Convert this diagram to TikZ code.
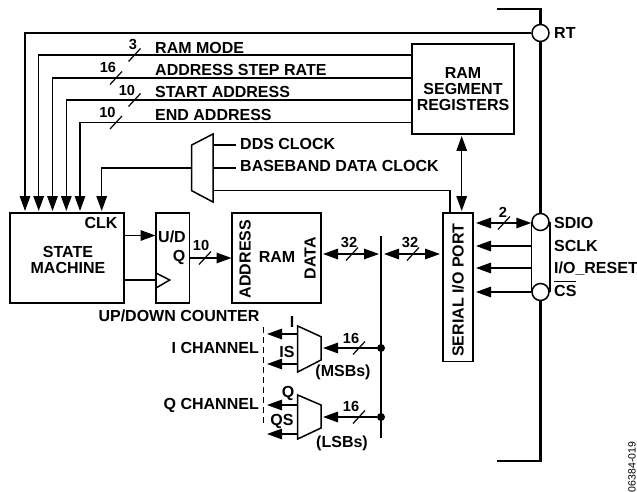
\documentclass[tikz,border=0pt]{standalone}
\usepackage{fontspec}
\setmainfont{Liberation Sans}
\usetikzlibrary{arrows.meta}

\begin{document}
\begin{tikzpicture}[x=1pt,y=-1pt,>={Stealth[inset=0pt,length=15pt,width=10.5pt]},
                    sig/.style={line width=1.5pt},
                    bus/.style={line width=2.2pt},
                    tick/.style={line width=1.2pt},
                    blk/.style={draw,line width=1.5pt,inner sep=0pt},
                    pad/.style={circle,draw,line width=1.5pt,fill=white,minimum size=17pt,inner sep=0pt},
                    lbl/.style={inner sep=0pt,text height=11.4pt,text depth=0pt,font=\fontsize{16}{17}\selectfont\bfseries},
                    num/.style={inner sep=0pt,text height=10.5pt,text depth=0pt,font=\fontsize{14.6}{17}\selectfont\bfseries},
                    dot/.style={circle,fill,inner sep=0pt,minimum size=8pt}]
  \useasboundingbox (0,0) rectangle (637,492);
  % device outline and pins
  \coordinate (topstub) at (497,9);
  \coordinate (botstub) at (497,461);
  \node[pad] (rt) at (540.5,33) {};
  \node[pad] (sdio) at (540.5,222) {};
  \node[pad] (cs) at (540.5,292) {};
  \draw[bus] (topstub) -| (rt.north);
  \draw[bus] (rt.south) -- (sdio.north);
  \draw[bus] (botstub) -| (cs.south);
  \draw[sig] (sdio.west) -- (cs.west) (sdio.east) -- (cs.east);
  \node[lbl,anchor=west] (rtl) at (554,33) {RT};
  \node[lbl,anchor=west] (sdiol) at (554,223) {SDIO};
  \node[lbl,anchor=west] (sclkl) at (554,246) {SCLK};
  \node[lbl,anchor=west] (rstl) at (554,268) {I/O\_RESET};
  \node[lbl,anchor=west] (csl) at (554,290.5) {$\overline{\mbox{\rule{0pt}{13.2pt}CS}}$};
  % blocks
  \node[blk,minimum width=102pt,minimum height=90pt,align=center,font=\fontsize{16}{16}\selectfont\bfseries] (ramreg) at (463,89) {RAM\\SEGMENT\\REGISTERS};
  \node[blk,minimum width=114pt,minimum height=90pt] (sm) at (67,258) {};
  \node[blk,minimum width=33.5pt,minimum height=90pt] (udc) at (172.7,258) {};
  \node[blk,minimum width=89pt,minimum height=90pt] (ram) at (276.5,258) {};
  \node[blk,minimum width=30pt,minimum height=148.5pt] (sio) at (457.8,287) {};
  \node[lbl,rotate=90] (siol) at (457.8,290) {SERIAL I/O PORT};
  \node[lbl] (st) at (68,252) {STATE};
  \node[lbl] (ma) at (68,267.5) {MACHINE};
  \node[lbl] (clk) at (101,223) {CLK};
  \node[lbl] (ud) at (172,236.5) {U/D};
  \node[lbl] (qq) at (179,256) {Q};
  \node[lbl,rotate=90] (addr) at (245,259) {ADDRESS};
  \node[lbl] (raml) at (277,257) {RAM};
  \node[lbl,rotate=90] (data) at (310,258) {DATA};
  \node[lbl] (cnt) at (179,316) {UP/DOWN COUNTER};
  % lines from the registers to the state machine
  \coordinate (t1) at (25,211);
  \coordinate (t2) at (38.7,211);
  \coordinate (t3) at (52.5,211);
  \coordinate (t4) at (66.3,211);
  \coordinate (t5) at (80,211);
  \coordinate (t6) at (101.7,211);
  \coordinate (r2) at (411.7,55);
  \coordinate (r3) at (411.7,78);
  \coordinate (r4) at (411.7,100);
  \coordinate (r5) at (411.7,122.5);
  \draw[sig,->] (rt.west) -| (t1);
  \draw[sig,->] (r2) -| (t2);
  \draw[sig,->] (r3) -| (t3);
  \draw[sig,->] (r4) -| (t4);
  \draw[sig,->] (r5) -| (t5);
  \node[lbl,anchor=west] (m1) at (155,47.5) {RAM MODE};
  \node[lbl,anchor=west] (m2) at (155,70) {ADDRESS STEP RATE};
  \node[lbl,anchor=west] (m3) at (155,92) {START ADDRESS};
  \node[lbl,anchor=west] (m4) at (155,114.5) {END ADDRESS};
  \node[num] (n1) at (133,44.5) {3};
  \node[num] (n2) at (108,67) {16};
  \node[num] (n3) at (127,90) {10};
  \node[num] (n4) at (107.5,112) {10};
  % clock mux
  \draw[sig] (191.7,145) -- (213,134) -- (213,202) -- (191.7,190.7) -- cycle;
  \coordinate (mo) at (191.7,168);
  \coordinate (ma1) at (213,145);
  \coordinate (ma2) at (213,168);
  \coordinate (ma3) at (213,190.7);
  \coordinate (me1) at (236,145);
  \coordinate (me2) at (236,168);
  \draw[sig,->] (mo) -| (t6);
  \draw[sig] (ma1) -- (me1) (ma2) -- (me2);
  \draw[sig] (ma3) -| (450,213);
  \node[lbl,anchor=west] (dds) at (240,143.5) {DDS CLOCK};
  \node[lbl,anchor=west] (bb) at (240,165.7) {BASEBAND DATA CLOCK};
  % state machine to counter to RAM
  \coordinate (sm1) at (124,235.5);
  \coordinate (ud1) at (155.5,235.5);
  \coordinate (sm2) at (124,280);
  \coordinate (ud2) at (156,280);
  \coordinate (q1) at (189.5,258);
  \coordinate (ra1) at (231.5,258);
  \draw[sig,->] (sm1) -- (ud1);
  \draw[sig] (sm2) -- (ud2);
  \draw[sig] (156,273) -- (169.7,280) -- (156,288);
  \draw[sig,->] (q1) -- (ra1);
  \node[num] (n5) at (201,245) {10};
  % data bus
  \coordinate (bt) at (381,236);
  \coordinate (bb1) at (381,438);
  \draw[sig] (bt) -- (bb1);
  \node[dot] (d1) at (381,348) {};
  \node[dot] (d2) at (381,417) {};
  \coordinate (a1) at (323,254);
  \coordinate (a2) at (379,254);
  \coordinate (a3) at (384,254);
  \coordinate (a4) at (440,254);
  \draw[sig,<->] (a1) -- (a2);
  \draw[sig,<->] (a3) -- (a4);
  \node[num] (n6) at (349,242) {32};
  \node[num] (n7) at (410,242) {32};
  % serial port side
  \coordinate (s1) at (476,223);
  \coordinate (s2) at (476,246);
  \coordinate (s3) at (476,268);
  \coordinate (s4) at (476,292);
  \coordinate (p2) at (532,246);
  \coordinate (p3) at (532,268);
  \draw[sig,<->] (s1) -- (sdio.west |- s1);
  \draw[sig,->] (p2) -- (s2);
  \draw[sig,->] (p3) -- (s3);
  \draw[sig,->] (cs.west) -- (s4);
  \node[num] (n8) at (503,212) {2};
  \draw[sig,<->] (461.7,136) -- (461.7,211);
  % channel muxes
  \draw[sig] (297.7,326) -- (321,336.7) -- (321,360) -- (297.7,372) -- cycle;
  \draw[sig] (297.7,395) -- (321,405) -- (321,428) -- (297.7,439) -- cycle;
  \coordinate (i1) at (297.7,334);
  \coordinate (i2) at (297.7,364);
  \coordinate (q3) at (297.7,405);
  \coordinate (q4) at (297.7,434);
  \draw[sig,->] (i1) -- (267,334);
  \draw[sig,->] (i2) -- (267,364);
  \draw[sig,->] (q3) -- (267,405);
  \draw[sig,->] (q4) -- (267,434);
  \draw[sig,->] (d1) -- (323,348);
  \draw[sig,->] (d2) -- (323,417);
  \draw[line width=0.9pt,dash pattern=on 6pt off 4pt] (263,327) -- (263,423);
  \node[lbl] (il) at (292,322) {I};
  \node[lbl] (isl) at (287,352) {IS};
  \node[lbl] (ql) at (288,392) {Q};
  \node[lbl] (qsl) at (282,420) {QS};
  \node[lbl,anchor=east] (ich) at (259,348) {I CHANNEL};
  \node[lbl,anchor=east] (qch) at (259,404) {Q CHANNEL};
  \node[num] (n9) at (351,338) {16};
  \node[num] (n10) at (351,406) {16};
  \node[lbl] (msb) at (343,371) {(MSBs)};
  \node[lbl] (lsb) at (342,442) {(LSBs)};
  % bus width ticks
  \foreach \x/\y in {134.5/55,116/78,134.5/100,116/122.5,205/258,352/254,413/254,504/223,359/348,359/417}
    \draw[tick] (\x-6,\y+6.5) -- (\x+6,\y-6.5);
  \node[rotate=90,inner sep=0pt,font=\fontsize{10.5}{12}\selectfont] (fig) at (632,467) {06384-019};
\end{tikzpicture}
\end{document}
